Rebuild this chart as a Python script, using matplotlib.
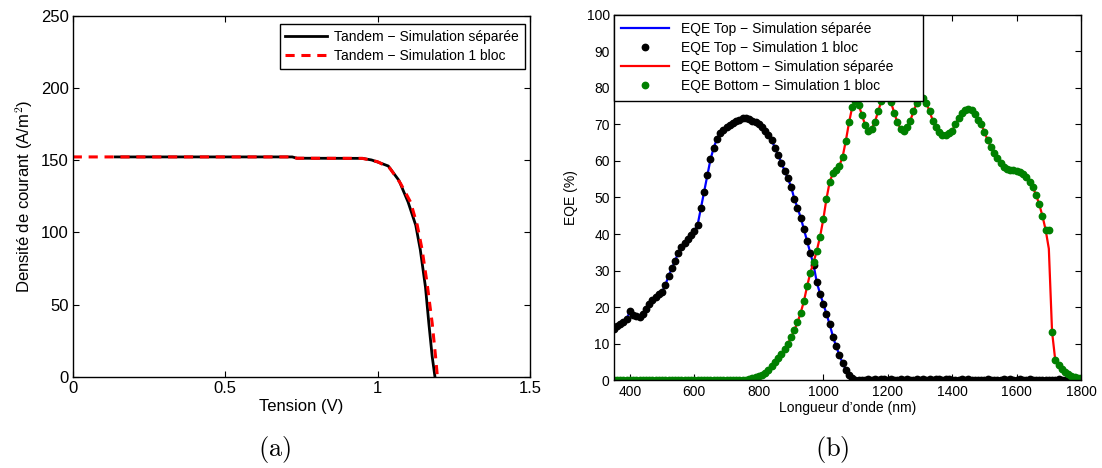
import matplotlib

matplotlib.use("Agg")
import matplotlib.pyplot as plt
import numpy as np

plt.rcParams["font.family"] = ["Liberation Sans", "DejaVu Sans"]
plt.rcParams["mathtext.fontset"] = "cm"

# (a) J-V curves of the tandem cell
tension_separee = [0.14, 0.72, 0.735, 0.95, 0.98, 1.01, 1.035, 1.07, 1.10, 1.125,
                   1.14, 1.157, 1.168, 1.179, 1.188]
courant_separee = [152.3, 152.3, 151.4, 151.3, 150.2, 148.0, 146.0, 136.0, 121.0, 105.0,
                   88.0, 62.0, 37.0, 14.0, 0.0]
tension_bloc = [0.0, 0.72, 0.735, 0.95, 1.00, 1.04, 1.075, 1.108, 1.13, 1.146,
                1.162, 1.179, 1.19, 1.196]
courant_bloc = [152.3, 152.3, 151.4, 151.3, 149.0, 144.5, 134.0, 121.0, 105.0, 88.0,
                65.0, 37.0, 14.0, 0.0]

# (b) EQE of the top and bottom sub-cells, 350..1800 nm every 10 nm
longueur_onde = np.arange(350, 1801, 10)
eqe_top = [
    14.0, 15.0, 15.5, 16.0, 16.7, 19.1, 18.0, 17.6, 17.4, 18.2, 19.4,
    21.0, 22.0, 22.9, 23.5, 24.3, 26.1, 28.6, 30.6, 32.7, 34.9,
    36.5, 37.6, 38.7, 39.7, 40.9, 42.5, 47.0, 51.6, 56.1, 60.4,
    63.6, 66.0, 67.5, 68.5, 69.2, 69.8, 70.3, 70.9, 71.3, 71.6,
    71.6, 71.4, 71.0, 70.6, 70.1, 69.3, 68.3, 67.2, 65.7, 63.5,
    61.6, 59.5, 57.3, 55.2, 53.0, 49.7, 47.2, 44.5, 41.3, 38.2,
    34.8, 31.5, 26.8, 23.7, 21.0, 18.2, 15.3, 12.0, 9.3, 7.0,
    4.7, 3.0, 1.5, 0.6, 0.2, 0.1, 0.1, 0.2, 0.3, 0.2,
    0.3, 0.2, 0.4, 0.3, 0.2, 0.3, 0.2, 0.1, 0.3, 0.2,
    0.3, 0.2, 0.1, 0.3, 0.2, 0.3, 0.2, 0.3, 0.2, 0.3,
    0.4, 0.2, 0.3, 0.3, 0.2, 0.1, 0.2, 0.3, 0.2, 0.3,
    0.2, 0.2, 0.1, 0.2, 0.2, 0.3, 0.2, 0.1, 0.2, 0.2,
    0.3, 0.2, 0.3, 0.2, 0.2, 0.3, 0.2, 0.2, 0.3, 0.2,
    0.2, 0.1, 0.2, 0.2, 0.1, 0.2, 0.2, 0.3, 0.2, 0.2,
    0.1, 0.2, 0.1, 0.2, 0.1,
]
eqe_bottom = [
    0.0, 0.0, 0.0, 0.0, 0.0, 0.0, 0.0, 0.0, 0.0, 0.0, 0.0,
    0.0, 0.0, 0.0, 0.0, 0.0, 0.0, 0.0, 0.0, 0.0, 0.0,
    0.0, 0.0, 0.0, 0.0, 0.0, 0.0, 0.0, 0.0, 0.0, 0.0,
    0.0, 0.0, 0.0, 0.0, 0.0, 0.0, 0.0, 0.0, 0.0, 0.1,
    0.2, 0.4, 0.6, 0.9, 1.2, 1.5, 2.1, 3.0, 3.9, 5.0,
    6.2, 7.3, 8.6, 10.0, 11.8, 13.7, 15.9, 18.5, 21.7, 25.8,
    29.5, 32.3, 35.5, 39.3, 44.0, 49.7, 54.3, 56.6, 57.6, 58.7,
    61.1, 65.5, 70.5, 74.8, 76.3, 75.3, 72.5, 69.8, 68.3, 68.8,
    70.6, 73.5, 76.3, 78.5, 78.0, 76.0, 73.2, 70.5, 68.8, 68.3,
    69.3, 71.0, 73.5, 75.8, 77.5, 77.3, 75.8, 73.5, 71.0, 69.3,
    67.8, 67.1, 67.0, 67.5, 68.3, 70.0, 71.8, 73.0, 73.8, 74.2,
    73.8, 72.8, 71.3, 70.0, 68.0, 65.6, 63.9, 62.2, 60.8, 59.3,
    58.4, 57.8, 57.6, 57.4, 57.2, 56.9, 56.5, 55.7, 54.3, 52.8,
    50.8, 48.2, 45.0, 41.2, 41.0, 13.3, 5.5, 4.2, 3.2, 2.4,
    1.7, 1.2, 0.9, 0.7, 0.6,
]
# the separate-simulation red line dips below the last dot before the edge
eqe_bottom_separee = list(eqe_bottom)
eqe_bottom_separee[135] = 36.0

fig = plt.figure(figsize=(11.02, 4.68), dpi=100)

# ---- (a) ----
ax1 = fig.add_axes([0.066, 0.195, 0.415, 0.771])
ax1.plot(tension_separee, courant_separee, color="black", lw=2.0,
         label="Tandem \u2212 Simulation séparée")
ax1.plot(tension_bloc, courant_bloc, color="red", lw=2.2, linestyle=(0, (3, 2.2)),
         label="Tandem \u2212 Simulation 1 bloc")
ax1.set_xlim(0, 1.5)
ax1.set_ylim(0, 250)
ax1.set_xticks([0, 0.5, 1, 1.5])
ax1.set_xticklabels(["0", "0.5", "1", "1.5"])
ax1.set_yticks([0, 50, 100, 150, 200, 250])
ax1.tick_params(direction="in", top=True, right=True, labelsize=12, pad=3, length=4)
ax1.set_xlabel("Tension (V)", fontsize=12, labelpad=2)
ax1.set_ylabel("Densité de courant (A/m$^2$)", fontsize=12, labelpad=4)
leg1 = ax1.legend(loc="upper right", bbox_to_anchor=(0.988, 0.978), borderaxespad=0,
                  fontsize=10, fancybox=False, edgecolor="black", framealpha=1,
                  handlelength=3.0, handletextpad=0.5, borderpad=0.42, labelspacing=0.36)
leg1.get_frame().set_linewidth(1.0)

# ---- (b) ----
ax2 = fig.add_axes([0.557, 0.187, 0.424, 0.782])
ax2.plot(longueur_onde, eqe_top, color="blue", lw=1.6,
         label="EQE Top \u2212 Simulation séparée")
ax2.plot(longueur_onde, eqe_top, linestyle="none", marker="o", markersize=4.6,
         color="black", label="EQE Top \u2212 Simulation 1 bloc")
ax2.plot(longueur_onde, eqe_bottom_separee, color="red", lw=1.6,
         label="EQE Bottom \u2212 Simulation séparée")
ax2.plot(longueur_onde, eqe_bottom, linestyle="none", marker="o", markersize=4.6,
         color="#008000", label="EQE Bottom \u2212 Simulation 1 bloc")
ax2.set_xlim(350, 1800)
ax2.set_ylim(0, 100)
ax2.set_xticks(range(400, 1801, 200))
ax2.set_yticks(range(0, 101, 10))
ax2.tick_params(direction="in", top=True, right=True, labelsize=10, pad=3, length=4)
ax2.set_xlabel("Longueur d\u2019onde (nm)", fontsize=10, labelpad=2)
ax2.set_ylabel("EQE (%)", fontsize=10, labelpad=6)
leg2 = ax2.legend(loc="upper left", bbox_to_anchor=(0, 0, 0.662, 1), mode="expand",
                  borderaxespad=0, fontsize=10, fancybox=False, edgecolor="black",
                  framealpha=1, handlelength=3.4, handletextpad=0.9, borderpad=0.55,
                  labelspacing=0.36)
leg2.get_frame().set_linewidth(1.0)

for ax in (ax1, ax2):
    for spine in ax.spines.values():
        spine.set_linewidth(1.0)

fig.text(0.249, 0.006, r"$\mathrm{(a)}$", fontsize=19, ha="center", va="bottom")
fig.text(0.755, 0.006, r"$\mathrm{(b)}$", fontsize=19, ha="center", va="bottom")

fig.savefig("out.png", dpi=100)
